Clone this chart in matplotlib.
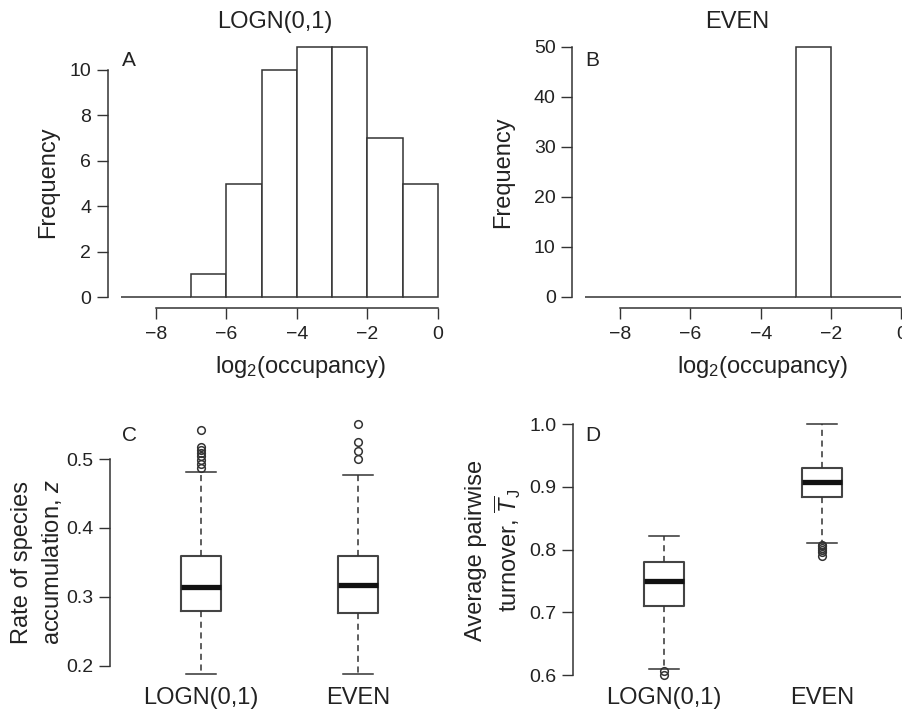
import matplotlib
matplotlib.use("Agg")
import matplotlib.pyplot as plt

plt.rcParams['font.family'] = ['Liberation Sans', 'DejaVu Sans']
plt.rcParams['mathtext.fontset'] = 'custom'
plt.rcParams['mathtext.rm'] = 'Liberation Sans'
plt.rcParams['mathtext.it'] = 'Liberation Sans:italic'
plt.rcParams['mathtext.bf'] = 'Liberation Sans:bold'

# ---------------- data ----------------
bin_edges = [-9, -8, -7, -6, -5, -4, -3, -2, -1, 0]
logn_counts = [0, 0, 1, 5, 10, 11, 11, 7, 5]
even_counts = [0, 0, 0, 0, 0, 0, 50, 0, 0]

box_labels = ["LOGN(0,1)", "EVEN"]
# panel C: rate of species accumulation z
z_whislo = [0.188, 0.188]
z_q1 = [0.279, 0.2765]
z_med = [0.315, 0.3176]
z_q3 = [0.360, 0.360]
z_whishi = [0.481, 0.477]
z_fliers = [[0.5425, 0.518, 0.5135, 0.5087, 0.5038, 0.499, 0.4927, 0.4878],
            [0.551, 0.5247, 0.5125, 0.5004]]
# panel D: average pairwise turnover
t_whislo = [0.610, 0.811]
t_q1 = [0.711, 0.884]
t_med = [0.750, 0.9076]
t_q3 = [0.780, 0.930]
t_whishi = [0.821, 1.000]
t_fliers = [[0.607, 0.601],
            [0.808, 0.805, 0.802, 0.799, 0.796, 0.790]]

# ---------------- figure ----------------
W, H = 903, 709
fig = plt.figure(figsize=(W / 100, H / 100), dpi=100)

LC = '#333333'
TICK_FS = 14
LAB_FS = 17


def px_axes(l, r, t, b):
    return fig.add_axes([l / W, 1 - b / H, (r - l) / W, (b - t) / H])


def style(ax):
    for s in ['top', 'right']:
        ax.spines[s].set_visible(False)
    for s in ['left', 'bottom']:
        ax.spines[s].set_color(LC)
        ax.spines[s].set_linewidth(1.1)
    ax.tick_params(direction='out', length=8, width=1.0, color=LC,
                   labelsize=TICK_FS, labelcolor='#222222')
    ax.tick_params(axis='y', pad=4)
    ax.tick_params(axis='x', pad=5)


def hist_panel(ax, counts, yticks):
    lefts = bin_edges[:-1]
    ax.bar(lefts, counts, width=1, align='edge', facecolor='white',
           edgecolor=LC, linewidth=1.1)
    ax.set_xlim(-9.36, 0.36)
    top = max(counts)
    ax.set_ylim(-0.04 * top, top * 1.04)
    style(ax)
    ax.set_xticks([-8, -6, -4, -2, 0])
    ax.set_xticklabels(['\u22128', '\u22126', '\u22124', '\u22122', '0'])
    ax.set_yticks(yticks)
    ax.spines['bottom'].set_bounds(-8, 0)
    ax.spines['left'].set_bounds(yticks[0], yticks[-1])
    ax.spines['bottom'].set_position(('outward', 1))


# Panel A
axA = px_axes(108, 450.7, 37.3, 307)
hist_panel(axA, logn_counts, [0, 2, 4, 6, 8, 10])
# Panel B
axB = px_axes(572.4, 914, 36.7, 306.7)
hist_panel(axB, even_counts, [0, 10, 20, 30, 40, 50])


def box_panel(ax, whislo, q1, med, q3, whishi, fliers, ylim, yticks, ytl):
    stats = []
    for i in range(len(box_labels)):
        stats.append(dict(whislo=whislo[i], q1=q1[i], med=med[i], q3=q3[i],
                          whishi=whishi[i], fliers=fliers[i]))
    ax.bxp(stats, positions=[1, 2], widths=0.254, showfliers=True,
           boxprops=dict(color='#444444', linewidth=1.5),
           medianprops=dict(color='#111111', linewidth=3.8, solid_capstyle='butt'),
           whiskerprops=dict(color='#333333', linewidth=1.1, linestyle=(0, (4, 3))),
           capprops=dict(color='#333333', linewidth=1.1),
           capwidths=0.19,
           flierprops=dict(marker='o', markersize=5.5, markerfacecolor='none',
                           markeredgecolor='#333333', markeredgewidth=1.1))
    ax.set_xlim(0.42, 2.58)
    ax.set_ylim(*ylim)
    style(ax)
    ax.spines['bottom'].set_visible(False)
    ax.set_yticks(yticks)
    ax.set_yticklabels(ytl)
    ax.spines['left'].set_bounds(yticks[0], yticks[-1])
    ax.set_xticks([1, 2])
    ax.set_xticklabels(box_labels, fontsize=LAB_FS)
    ax.tick_params(axis='x', length=0, pad=2)


axC = px_axes(109.8, 449.5, 414, 684)
box_panel(axC, z_whislo, z_q1, z_med, z_q3, z_whishi, z_fliers,
          (0.1735, 0.5655), [0.2, 0.3, 0.4, 0.5], ['0.2', '0.3', '0.4', '0.5'])
axD = px_axes(573, 913, 414, 684)
box_panel(axD, t_whislo, t_q1, t_med, t_q3, t_whishi, t_fliers,
          (0.586, 1.016), [0.6, 0.7, 0.8, 0.9, 1.0], ['0.6', '0.7', '0.8', '0.9', '1.0'])


def ftext(x, y, s, **kw):
    kw.setdefault('ha', 'center')
    kw.setdefault('va', 'center')
    kw.setdefault('color', '#222222')
    fig.text(x / W, 1 - y / H, s, **kw)


# titles
ftext(274.5, 22, 'LOGN(0,1)', fontsize=LAB_FS)
ftext(737.5, 22, 'EVEN', fontsize=LAB_FS)
# x labels
ftext(300, 367, r'log$_2$(occupancy)', fontsize=LAB_FS)
ftext(762, 367, r'log$_2$(occupancy)', fontsize=LAB_FS)
# y labels
ftext(48, 182, 'Frequency', fontsize=LAB_FS, rotation=90)
ftext(503, 172, 'Frequency', fontsize=LAB_FS, rotation=90)
ftext(22, 562, 'Rate of species', fontsize=LAB_FS, rotation=90)
ftext(52, 562, r'accumulation, $z$', fontsize=LAB_FS, rotation=90)
ftext(476, 550, 'Average pairwise', fontsize=LAB_FS, rotation=90)
ftext(508, 550, r'turnover, $\overline{T}_{\mathrm{J}}$', fontsize=LAB_FS, rotation=90)
# panel letters
ftext(128.5, 60, 'A', fontsize=15)
ftext(592, 60, 'B', fontsize=15)
ftext(130, 435, 'C', fontsize=15)
ftext(593, 435, 'D', fontsize=15)

fig.savefig('out.png', dpi=100)
